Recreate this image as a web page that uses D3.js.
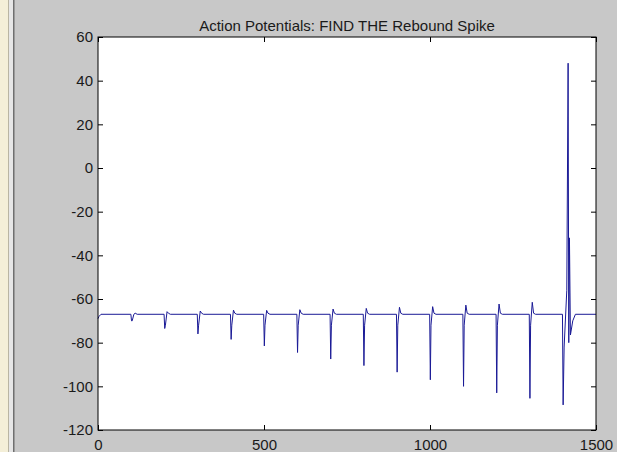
<!DOCTYPE html>
<html>
<head>
<meta charset="utf-8">
<script src="https://cdn.jsdelivr.net/npm/d3@7"></script>
<style>
  body { margin: 0; background: #c8c8c8; }
  svg { display: block; }
  text { font-family: "Liberation Sans", Arial, sans-serif; }
</style>
</head>
<body>
<div id="chart"></div>
<script>
// membrane potential trace (ms, mV)
var baseline = -67;
var startT = [0, 3, 9];
var startV = [-69, -68, -67];
var spikeTimes = [100, 200, 300, 400, 500, 600, 700, 800, 900, 1000, 1100, 1200, 1300];
var spikeMins = [-70, -73.5, -76, -78.5, -81.5, -84.5, -87.5, -90.5, -93.5, -97, -100, -103, -105.5];
var reboundPeaks = [-67, -65.8, -65.5, -65.1, -65.2, -64.9, -64.6, -64.3, -63.8, -63.5, -62.8, -62.3, -61.5];
// the last stimulus, where the rebound spike fires
var burstT = [1399, 1401, 1404, 1412, 1416, 1418, 1420, 1423, 1430, 1438];
var burstV = [-67, -108.5, -82, -56, 48, -80, -32, -76.5, -70, -67];
var endT = 1500;

var xTicks = [0, 500, 1000, 1500];
var yTicks = [-120, -100, -80, -60, -40, -20, 0, 20, 40, 60];
var title = "Action Potentials: FIND THE Rebound Spike";

var W = 617, H = 452;
var pLeft = 98, pRight = 596, pTop = 37, pBottom = 430;

var svg = d3.select("#chart").append("svg")
  .attr("width", W)
  .attr("height", H);

// figure background + the window edge at the left
svg.append("rect").attr("width", W).attr("height", H).attr("fill", "#c8c8c8");
svg.append("rect").attr("x", 0).attr("y", 0).attr("width", 8).attr("height", H).attr("fill", "#f4efd8");
svg.append("rect").attr("x", 8).attr("y", 0).attr("width", 1).attr("height", H).attr("fill", "#b9b5a3");
svg.append("rect").attr("x", 9).attr("y", 0).attr("width", 4).attr("height", H).attr("fill", "#e6e6e6");
svg.append("rect").attr("x", 13).attr("y", 0).attr("width", 1.5).attr("height", H).attr("fill", "#6f6f6f");

var x = d3.scaleLinear().domain([0, 1500]).range([pLeft, pRight]);
var y = d3.scaleLinear().domain([-120, 60]).range([pBottom, pTop]);

svg.append("rect")
  .attr("x", pLeft).attr("y", pTop)
  .attr("width", pRight - pLeft).attr("height", pBottom - pTop)
  .attr("fill", "#fff");

// build the trace from the read points
var trace = [];
startT.forEach(function (t, i) { trace.push([t, startV[i]]); });
spikeTimes.forEach(function (t, i) {
  trace.push([t - 1, baseline]);
  trace.push([t + 1, spikeMins[i]]);
  trace.push([t + 3, Math.max(spikeMins[i], -72)]);
  trace.push([t + 8, reboundPeaks[i]]);
  trace.push([t + 12, -66.5]);
  trace.push([t + 18, baseline]);
});
burstT.forEach(function (t, i) { trace.push([t, burstV[i]]); });
trace.push([endT, baseline]);

var line = d3.line()
  .x(function (d) { return x(d[0]); })
  .y(function (d) { return y(d[1]); });

svg.append("path")
  .datum(trace)
  .attr("fill", "none")
  .attr("stroke", "#1a1a96")
  .attr("stroke-width", 1)
  .attr("d", line);

// axes, MATLAB style: ticks pointing in, on all four sides
function styleAxis(g) {
  g.select(".domain").remove();
  g.selectAll(".tick line").attr("stroke", "#000");
  g.selectAll(".tick text").attr("fill", "#1a1a1a").style("font-size", "15px");
}

// plain hyphen minus like the original
var fmt = function (d) { return String(d); };

svg.append("g")
  .attr("transform", "translate(0," + pBottom + ")")
  .call(d3.axisBottom(x).tickValues(xTicks).tickFormat(fmt).tickSizeInner(-5).tickSizeOuter(0).tickPadding(9))
  .call(styleAxis);

svg.append("g")
  .attr("transform", "translate(0," + pTop + ")")
  .call(d3.axisTop(x).tickValues(xTicks).tickSizeInner(-5).tickSizeOuter(0).tickFormat(""))
  .call(styleAxis);

svg.append("g")
  .attr("transform", "translate(" + pLeft + ",0)")
  .call(d3.axisLeft(y).tickValues(yTicks).tickFormat(fmt).tickSizeInner(-5).tickSizeOuter(0).tickPadding(5))
  .call(styleAxis);

svg.append("g")
  .attr("transform", "translate(" + pRight + ",0)")
  .call(d3.axisRight(y).tickValues(yTicks).tickSizeInner(-5).tickSizeOuter(0).tickFormat(""))
  .call(styleAxis);

svg.append("rect")
  .attr("x", pLeft).attr("y", pTop)
  .attr("width", pRight - pLeft).attr("height", pBottom - pTop)
  .attr("fill", "none")
  .attr("stroke", "#000")
  .attr("stroke-width", 1);

svg.append("text")
  .attr("x", (pLeft + pRight) / 2)
  .attr("y", 30.5)
  .attr("text-anchor", "middle")
  .attr("fill", "#1a1a1a")
  .style("font-size", "15px")
  .text(title);
</script>
</body>
</html>
